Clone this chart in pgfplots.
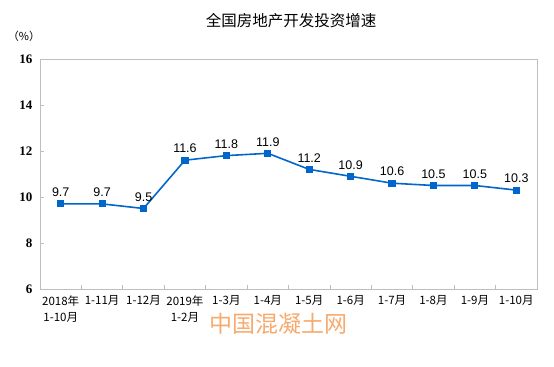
\documentclass[border=0pt]{standalone}
\usepackage{pgfplots}
\pgfplotsset{compat=1.18}
\usepackage{fontspec}
\setmainfont{Liberation Serif}
\newfontfamily\cjk{Noto Sans CJK SC}
\newfontfamily\arial{Liberation Sans}
\definecolor{lineblue}{RGB}{0,102,204}
\definecolor{framegray}{RGB}{190,190,190}
\definecolor{wm}{RGB}{246,170,110}
\begin{document}
\begin{tikzpicture}
\path[use as bounding box] (0,0) rectangle (554bp,367bp);
\begin{axis}[
  at={(40bp,78bp)}, anchor=south west,
  scale only axis, width=497bp, height=230bp,
  xmin=-0.5, xmax=11.5, ymin=6, ymax=16,
  ytick={6,8,10,12,14,16},
  xtick={0,...,11},
  xticklabels={{2018年\\1-10月},1-11月,1-12月,{2019年\\1-2月},1-3月,1-4月,1-5月,1-6月,1-7月,1-8月,1-9月,1-10月},
  minor xtick={0.5,1.5,...,10.5},
  major x tick style={draw=none},
  minor x tick style={framegray, line width=0.8pt},
  minor tick length=4bp,
  major tick length=4bp,
  tick align=inside,
  ytick pos=left,
  xtick pos=bottom,
  axis line style={framegray, line width=0.8pt},
  y tick style={framegray, line width=0.8pt},
  xticklabel style={font=\cjk\fontsize{11.5bp}{16bp}\selectfont, align=center, anchor=north, yshift=-3bp},
  yticklabel style={font=\fontsize{13bp}{14bp}\selectfont\bfseries, xshift=-4bp},
  /pgf/number format/assume math mode=true,
  nodes near coords,
  every node near coord/.append style={font=\arial\fontsize{12.5bp}{14bp}\selectfont, anchor=south, yshift=3bp, text=black},
  point meta=explicit symbolic,
  clip=false,
]
\addplot[lineblue, line width=1.6pt, mark=square*, mark size=2.8bp, mark options={fill=lineblue}] coordinates {
(0,9.7) [9.7] (1,9.7) [9.7] (2,9.5) [9.5] (3,11.6) [11.6] (4,11.8) [11.8] (5,11.9) [11.9]
(6,11.2) [11.2] (7,10.9) [10.9] (8,10.6) [10.6] (9,10.5) [10.5] (10,10.5) [10.5] (11,10.3) [10.3]
};
\end{axis}
\node[font=\cjk\fontsize{15.5bp}{18bp}\selectfont] at (291bp,346bp) {全国房地产开发投资增速};
\node[font=\cjk\fontsize{11bp}{13bp}\selectfont] at (24bp,331bp) {（\%）};
\node[font=\cjk\fontsize{23bp}{26bp}\selectfont, text=wm] at (278bp,43bp) {中国混凝土网};
\end{tikzpicture}
\end{document}
